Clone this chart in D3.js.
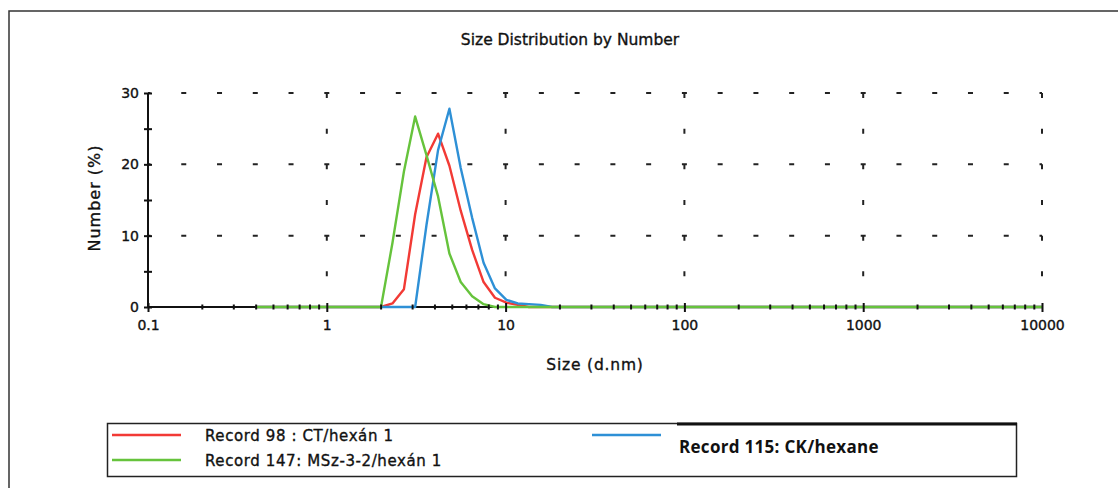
<!DOCTYPE html>
<html>
<head>
<meta charset="utf-8">
<script src="https://cdn.jsdelivr.net/npm/d3@7"></script>
<style>
  body { margin: 0; background: #fff; }
  svg text { fill: #111; }
</style>
</head>
<body>
<svg id="chart" width="1118" height="488"></svg>
<script>
// bin sizes (d.nm) shared by all records, endpoints 0.4 and 10000
sizes = [0.4, 2.01, 2.33, 2.70, 3.12, 3.61, 4.19, 4.85, 5.61, 6.50, 7.53, 8.72, 10.1, 11.7, 13.5, 15.7, 18.2, 21.0, 10000]

// Number (%) per bin
record98 = [0, 0, 0.5, 2.5, 13, 21, 24.3, 19.8, 13.5, 8, 3.5, 1.3, 0.6, 0.3, 0, 0, 0, 0, 0]
record115 = [0, 0, 0, 0, 0, 11.5, 22, 27.8, 19.5, 12.5, 6.2, 2.6, 1.0, 0.5, 0.4, 0.3, 0, 0, 0]
record147 = [0, 0, 9, 19, 26.7, 21.3, 15.5, 7.5, 3.5, 1.5, 0.4, 0, 0, 0, 0, 0, 0, 0, 0]

xTicks = [0.1, 1, 10, 100, 1000, 10000]
xTickLabels = ["0.1", "1", "10", "100", "1000", "10000"]
yTicks = [0, 10, 20, 30]
yMinorTicks = [5, 15, 25]

legendLabels = ["Record 98 : CT/hexán 1", "Record 147: MSz-3-2/hexán 1", "Record 115: CK/hexane"]

let red = "#f23a35";
let green = "#66c33c";
let blue = "#2e90d6";

let svg = d3.select("#chart");

// outer frame (left + top edge only)
svg.append("path")
    .attr("d", "M9,488 V11 H1118")
    .attr("fill", "none")
    .attr("stroke", "#333")
    .attr("stroke-width", 1.5);

let xScale = d3.scaleLog().domain([0.1, 10000]).range([148, 1042]);
let yScale = d3.scaleLinear().domain([0, 30]).range([307, 93]);

let xStep = (xScale(1) - xScale(0.1)) / 5;
let yStep = yScale(0) - yScale(5);

// dotted grid
svg.append("g").selectAll("line")
    .data(yTicks.slice(1))
    .enter().append("line")
    .attr("x1", xScale(0.1)).attr("x2", xScale(10000))
    .attr("y1", d => yScale(d)).attr("y2", d => yScale(d))
    .attr("stroke", "#222")
    .attr("stroke-width", 2)
    .attr("stroke-dasharray", "5 " + (xStep - 5))
    .attr("stroke-dashoffset", 2.5);

svg.append("g").selectAll("line")
    .data(xTicks.slice(1))
    .enter().append("line")
    .attr("x1", d => xScale(d)).attr("x2", d => xScale(d))
    .attr("y1", yScale(30)).attr("y2", yScale(0))
    .attr("stroke", "#222")
    .attr("stroke-width", 2)
    .attr("stroke-dasharray", "5 " + (yStep - 5));

// axis lines (under the curves)
svg.append("line")
    .attr("x1", xScale(0.1)).attr("x2", xScale(10000))
    .attr("y1", yScale(0)).attr("y2", yScale(0))
    .attr("stroke", "#111").attr("stroke-width", 2);
svg.append("line")
    .attr("x1", xScale(0.1)).attr("x2", xScale(0.1))
    .attr("y1", yScale(0)).attr("y2", yScale(30))
    .attr("stroke", "#111").attr("stroke-width", 2);

// curves
let line = d3.line()
    .x((d, i) => xScale(sizes[i]))
    .y(d => yScale(d));

[[record98, red], [record115, blue], [record147, green]].forEach(s => {
    svg.append("path")
        .datum(s[0])
        .attr("fill", "none")
        .attr("stroke", s[1])
        .attr("stroke-width", 2.4)
        .attr("stroke-linejoin", "round")
        .attr("d", line);
});

// ticks on top
let minorX = [];
xTicks.slice(0, -1).forEach(dec => {
    for (let m = 2; m <= 9; m++) minorX.push(dec * m);
});

function tickGroup(axis, tx, ty) {
    let g = svg.append("g")
        .attr("transform", "translate(" + tx + "," + ty + ")")
        .call(axis);
    g.select(".domain").remove();
    g.selectAll(".tick line").attr("stroke", "#111").attr("stroke-width", 2);
    return g;
}

function heavyText(sel, size) {
    sel.attr("font-size", size)
        .style("font-family", "'DejaVu Sans', sans-serif")
        .attr("fill", "#111")
        .attr("stroke", "#111")
        .attr("stroke-width", 0.35);
}

let xAxis = tickGroup(d3.axisBottom(xScale).tickValues(xTicks)
    .tickFormat((d, i) => xTickLabels[i]).tickSize(5).tickPadding(8), 0, yScale(0));
heavyText(xAxis.selectAll("text"), 14);
tickGroup(d3.axisTop(xScale).tickValues(xTicks).tickFormat("").tickSize(4), 0, yScale(0));
tickGroup(d3.axisBottom(xScale).tickValues(minorX).tickFormat("").tickSize(2.5), 0, yScale(0));
tickGroup(d3.axisTop(xScale).tickValues(minorX).tickFormat("").tickSize(2.5), 0, yScale(0));

let yAxis = tickGroup(d3.axisLeft(yScale).tickValues(yTicks).tickSize(4).tickPadding(5), xScale(0.1), 0);
heavyText(yAxis.selectAll("text"), 14);
tickGroup(d3.axisRight(yScale).tickValues(yTicks).tickFormat("").tickSize(4), xScale(0.1), 0);
tickGroup(d3.axisLeft(yScale).tickValues(yMinorTicks).tickFormat("").tickSize(4), xScale(0.1), 0);
tickGroup(d3.axisRight(yScale).tickValues(yMinorTicks).tickFormat("").tickSize(4), xScale(0.1), 0);

// titles
heavyText(svg.append("text")
    .attr("x", 570).attr("y", 45)
    .attr("text-anchor", "middle")
    .text("Size Distribution by Number"), 15.5);

heavyText(svg.append("text")
    .attr("x", 595).attr("y", 370)
    .attr("text-anchor", "middle")
    .attr("letter-spacing", 0.8)
    .text("Size (d.nm)"), 15.5);

heavyText(svg.append("text")
    .attr("transform", "translate(100,198) rotate(-90)")
    .attr("text-anchor", "middle")
    .attr("letter-spacing", 1)
    .text("Number (%)"), 16);

// legend
svg.append("rect")
    .attr("x", 107.5).attr("y", 423.5)
    .attr("width", 909).attr("height", 53)
    .attr("fill", "none")
    .attr("stroke", "#222")
    .attr("stroke-width", 1.5);
svg.append("line")
    .attr("x1", 677).attr("x2", 1017)
    .attr("y1", 424).attr("y2", 424)
    .attr("stroke", "#111").attr("stroke-width", 3);

let legendItems = [
    { label: legendLabels[0], color: red, lx: 112, tx: 205, y: 435, bold: false },
    { label: legendLabels[1], color: green, lx: 112, tx: 205, y: 460, bold: false },
    { label: legendLabels[2], color: blue, lx: 592, tx: 679, y: 435, bold: true }
];

legendItems.forEach(d => {
    svg.append("line")
        .attr("x1", d.lx).attr("x2", d.lx + 69)
        .attr("y1", d.y).attr("y2", d.y)
        .attr("stroke", d.color).attr("stroke-width", 2.4);
    let t = svg.append("text")
        .attr("x", d.tx)
        .attr("y", d.bold ? d.y + 18 : d.y + 6)
        .text(d.label);
    if (d.bold) {
        t.style("font-family", "'Open Sans', sans-serif")
            .attr("font-weight", "bold")
            .attr("font-size", 17)
            .attr("letter-spacing", 0.3);
    } else {
        heavyText(t, 15);
        t.attr("letter-spacing", 0.6);
    }
});
</script>
</body>
</html>
